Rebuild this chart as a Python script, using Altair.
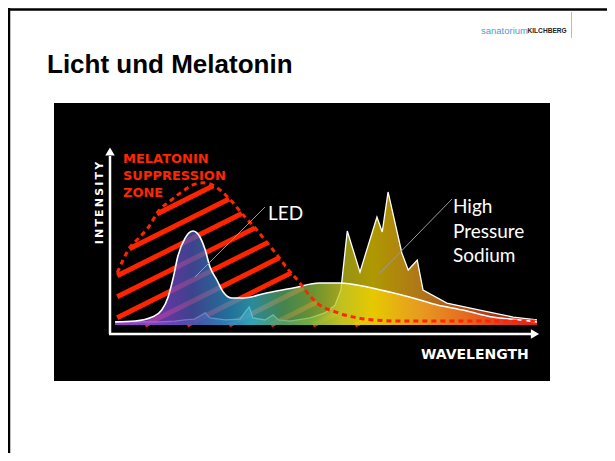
import altair as alt
import pandas as pd
import numpy as np

# ---------------- texts ----------------
title = "Licht und Melatonin"
logo_a = "sanatorium"
logo_b = "KILCHBERG"
zone_lines = ["MELATONIN", "SUPPRESSION", "ZONE"]
hps_lines = ["High", "Pressure", "Sodium"]
led_label = "LED"
x_label = "WAVELENGTH"
y_label = "\u2009".join("INTENSITY")

# ---------------- data (wavelength nm, relative intensity) ----------------
mel_wl = [384, 396, 404, 413, 424, 434, 445, 456, 465, 473, 483, 493, 503, 514, 525,
          536, 545, 554, 566, 573, 591, 606, 622, 651, 778]
mel_int = [29, 43, 48, 54, 64, 69, 74, 78, 79, 78, 74, 68, 61, 54, 46,
           38, 31, 25, 16, 12, 7, 4.5, 3, 2.2, 2.2]

led_wl = [382, 401, 417, 426, 432, 437, 441, 448, 455.5, 462, 467, 471.5, 478, 484,
          492, 503, 525, 550, 575, 594, 620, 641, 663, 686, 710, 738, 764, 780]
led_int = [1.7, 2.2, 4.4, 8.3, 15.6, 26.7, 37.8, 48.3, 52.2, 48.9, 41.7, 32.2, 25, 18.3,
           15, 15, 17.8, 20.6, 23.3, 23.3, 21.1, 18.3, 15, 11.1, 8.3, 4.4, 2.8, 1.7]

hps_wl = [382, 424, 438.5, 448, 457, 462, 467, 471.5, 486, 500, 505.5, 508.5, 512, 523.5,
          531, 536, 547, 566, 580, 589.5, 595, 601, 613, 629, 634, 639.5, 652.5, 658.5,
          667, 672.5, 695, 726, 757.5, 780]
hps_int = [1.7, 1.7, 2.2, 2.8, 3.3, 5, 6.7, 3.9, 2.8, 3.3, 7.8, 10, 3.9, 2.8,
           5.6, 2.8, 2.2, 3.9, 6.7, 11, 19.4, 52.2, 29.4, 60, 51.7, 73.9, 40, 30.6,
           36, 19.4, 12.2, 8.3, 4.4, 2.8]

# spectrum colours along the wavelength axis
spec_wl = [382, 430, 455, 490, 510, 540, 565, 595, 625, 670, 710, 745, 780]
spec_col = ["#a444d8", "#7a44c8", "#4c54b0", "#2a8cc0", "#34acc4", "#54a464", "#7cb444",
            "#cccc22", "#f4d400", "#f4a422", "#f47422", "#ec4422", "#e42222"]

# ---------------- scales ----------------
xs = alt.Scale(domain=[380, 780], range=[105, 529])
ys = alt.Scale(domain=[0, 100], range=[317, 137])


def grad(wl_min, wl_max):
    return alt.Gradient(
        gradient="linear",
        stops=[alt.GradientStop(color=c, offset=float(min(1, max(0, (w - wl_min) / (wl_max - wl_min)))))
               for w, c in zip(spec_wl, spec_col)],
        x1=0, x2=1, y1=0, y2=0,
    )


mel_df = pd.DataFrame({"wl": mel_wl, "i": mel_int})
led_df = pd.DataFrame({"wl": led_wl, "i": led_int})
hps_df = pd.DataFrame({"wl": hps_wl, "i": hps_int})

# hatch stripes clipped to the melatonin suppression region
slope = 0.5 * (424 / 400) / 1.8
step = 21 / 1.8
grid = np.linspace(mel_wl[0], 640, 3000)
curve = np.interp(grid, mel_wl, mel_int)
rows = []
for k in range(-14, 8):
    c = 2.8 + step * k
    line = c + slope * (grid - 380)
    inside = (line >= 0) & (line <= curve)
    idx = np.where(inside)[0]
    if len(idx) < 2:
        continue
    runs = np.split(idx, np.where(np.diff(idx) > 1)[0] + 1)
    for r in runs:
        a, b = r[0], r[-1]
        if grid[b] - grid[a] < 8:
            continue
        rows.append({"x1": grid[a], "x2": grid[b], "y1": line[a], "y2": line[b]})
stripe_df = pd.DataFrame(rows)

one = pd.DataFrame({"k": [0]})


def vtext(txt, x, y, **kw):
    return alt.Chart(one).mark_text(**kw).encode(x=alt.value(x), y=alt.value(y), text=alt.value(txt))


def vrule(x, y, x2, y2, **kw):
    return alt.Chart(one).mark_rule(**kw).encode(
        x=alt.value(x), y=alt.value(y), x2=alt.value(x2), y2=alt.value(y2))


layers = []
# slide frame
layers.append(vrule(0, 1.5, 599, 1.5, color="black", strokeWidth=2.5))
layers.append(vrule(1, 0, 1, 445, color="black", strokeWidth=2.5))
# logo
layers.append(vtext(logo_a, 473, 23, align="left", font="Liberation Sans", fontSize=9.5, color="#4f9bd3"))
layers.append(vtext(logo_b, 519.5, 23, align="left", font="Liberation Sans", fontSize=6.6,
                    fontWeight="bold", color="#222222"))
layers.append(vrule(563.5, 4, 563.5, 30, color="#bbbbbb", strokeWidth=1))
# title
layers.append(vtext(title, 39, 56.5, align="left", font="Liberation Sans", fontSize=26,
                    fontWeight="bold", color="black"))
# black picture
layers.append(alt.Chart(one).mark_rect(color="black").encode(
    x=alt.value(46), x2=alt.value(542), y=alt.value(95), y2=alt.value(373)))

# stripes
layers.append(alt.Chart(stripe_df).mark_rule(color="#ff2400", strokeWidth=5, strokeCap="butt").encode(
    x=alt.X("x1:Q", scale=xs, axis=None), x2="x2:Q",
    y=alt.Y("y1:Q", scale=ys, axis=None), y2="y2:Q"))

# HPS area + outline
layers.append(alt.Chart(hps_df).mark_area(color=grad(hps_wl[0], hps_wl[-1]), opacity=0.72).encode(
    x=alt.X("wl:Q", scale=xs, axis=None), y=alt.Y("i:Q", scale=ys, axis=None)))
layers.append(alt.Chart(hps_df).mark_line(color="white", strokeWidth=1.3).encode(
    x=alt.X("wl:Q", scale=xs, axis=None), y=alt.Y("i:Q", scale=ys, axis=None)))

# LED area + outline
layers.append(alt.Chart(led_df).mark_area(color=grad(led_wl[0], led_wl[-1]), opacity=0.8,
                                          interpolate="monotone").encode(
    x=alt.X("wl:Q", scale=xs, axis=None), y=alt.Y("i:Q", scale=ys, axis=None)))
layers.append(alt.Chart(led_df).mark_line(color="white", strokeWidth=1.6, interpolate="monotone").encode(
    x=alt.X("wl:Q", scale=xs, axis=None), y=alt.Y("i:Q", scale=ys, axis=None)))

# melatonin suppression curve
layers.append(alt.Chart(mel_df).mark_line(color="#ff2400", strokeWidth=3, strokeDash=[5, 4],
                                          interpolate="monotone").encode(
    x=alt.X("wl:Q", scale=xs, axis=None), y=alt.Y("i:Q", scale=ys, axis=None)))

# axes arrows
layers.append(vrule(102, 148, 102, 326, color="white", strokeWidth=2.5))
layers.append(vrule(101, 326, 525, 326, color="white", strokeWidth=2.5))
layers.append(alt.Chart(one).mark_point(shape="triangle-up", filled=True, color="white", size=90,
                                        opacity=1).encode(x=alt.value(102), y=alt.value(143.5)))
layers.append(alt.Chart(one).mark_point(shape="triangle-right", filled=True, color="white", size=90,
                                        opacity=1).encode(x=alt.value(527), y=alt.value(326)))

# pointers
layers.append(vrule(257, 199, 187, 269, color="#9a9a9a", strokeWidth=1))
layers.append(vrule(444, 191, 372, 265, color="#9a9a9a", strokeWidth=1))

# labels
layers.append(vtext(zone_lines, 115, 151, align="left", font="DejaVu Sans", fontSize=13,
                    fontWeight="bold", color="#ff2600", lineHeight=17))
layers.append(vtext(y_label, 92, 195, align="center", baseline="middle", angle=270,
                    font="DejaVu Sans", fontSize=11, fontWeight="bold", color="white"))
layers.append(vtext(x_label, 413, 347, align="left", font="DejaVu Sans", fontSize=14,
                    fontWeight="bold", color="white"))
layers.append(vtext(led_label, 260, 206, align="left", font="Lato", fontSize=19, color="white"))
layers.append(vtext(hps_lines, 445, 199, align="left", font="Lato", fontSize=19, color="white",
                    lineHeight=24.5))

chart = alt.layer(*layers).properties(
    width=599, height=445, padding=0, autosize=alt.AutoSizeParams(type="none"),
    background="white",
).configure_view(stroke=None)

chart.save("out.html", embed_options={"renderer": "svg", "actions": False})
